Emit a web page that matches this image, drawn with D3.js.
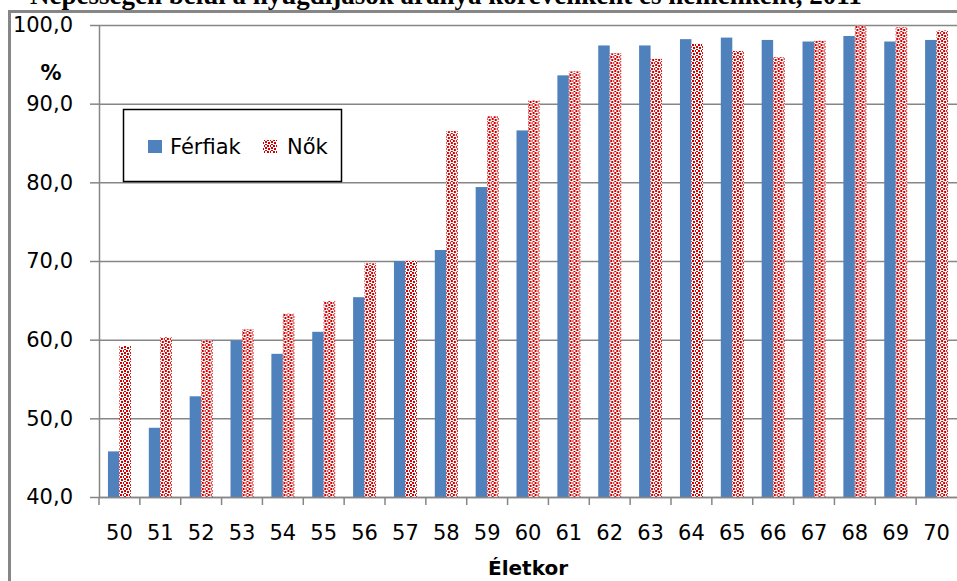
<!DOCTYPE html>
<html>
<head>
<meta charset="utf-8">
<script src="https://cdn.jsdelivr.net/npm/d3@7"></script>
<style>
  body { margin: 0; background: #fff; overflow: hidden; }
  text { font-family: "DejaVu Sans", sans-serif; fill: #000; }
</style>
</head>
<body>
<script>
// age groups (x categories)
const ages = ["50","51","52","53","54","55","56","57","58","59","60",
              "61","62","63","64","65","66","67","68","69","70"];
// share in %
const ferfiak = [45.8, 48.8, 52.8, 59.9, 58.2, 61.0, 65.4, 70.0, 71.4, 79.4, 86.6,
                 93.6, 97.4, 97.4, 98.2, 98.4, 98.1, 97.9, 98.6, 97.9, 98.1];
const nok = [59.2, 60.3, 59.9, 61.3, 63.3, 64.9, 69.7, 70.0, 86.5, 88.4, 90.4,
             94.1, 96.4, 95.7, 97.6, 96.7, 95.9, 98.0, 99.9, 99.7, 99.3];
const series = ["Férfiak", "Nők"];
const yTicks = [40, 50, 60, 70, 80, 90, 100];

const margin = { top: 25, right: 0, bottom: 84, left: 99 },
      width = 957 - margin.left - margin.right,
      height = 581 - margin.top - margin.bottom;

const svgRoot = d3.select("body").append("svg")
    .attr("width", 957)
    .attr("height", 581);

// red "weave" pattern for the women bars
const defs = svgRoot.append("defs");
const pat = defs.append("pattern")
    .attr("id", "weave")
    .attr("patternUnits", "userSpaceOnUse")
    .attr("width", 6).attr("height", 6);
pat.append("rect").attr("width", 6).attr("height", 6).attr("fill", "#fff");
[[1,0],[2,0],[0,1],[3,1],[0,2],[3,2],[1,3],[2,3],
 [4,1],[1,4],[4,4],[5,4],[4,5],[5,5],[4,2],[2,4]].forEach(function (p) {
    pat.append("rect")
        .attr("x", p[0]).attr("y", p[1])
        .attr("width", 1).attr("height", 1)
        .attr("fill", "#d00000")
        .attr("shape-rendering", "crispEdges");
});

// cut off title above the frame
svgRoot.append("text")
    .attr("x", 30).attr("y", 4)
    .style("font-family", "'Liberation Serif', serif")
    .style("font-weight", "bold")
    .style("font-size", "27px")
    .text("Népességen belül a nyugdíjasok aránya korévenként és nemenként, 2011");

// chart frame
svgRoot.append("rect")
    .attr("x", 9.5).attr("y", 11.5)
    .attr("width", 1000).attr("height", 1000)
    .attr("fill", "#fff")
    .attr("stroke", "#868686")
    .attr("stroke-width", 3);

const svg = svgRoot.append("g")
    .attr("transform", "translate(" + margin.left + "," + margin.top + ")");

const x = d3.scaleBand().domain(ages).range([0, width]).padding(0);
const x1 = d3.scaleBand().domain(series).range([0, x.bandwidth()])
    .paddingInner(0).paddingOuter(0.78);
const y = d3.scaleLinear().domain([40, 100]).range([height, 0]);
const color = { "Férfiak": "#4f81bd", "Nők": "url(#weave)" };

// gridlines
svg.append("g")
    .call(d3.axisLeft(y).tickValues(yTicks).tickSize(-width).tickFormat(""))
    .call(function (g) { g.select(".domain").remove(); })
    .selectAll("line").attr("stroke", "#868686").attr("stroke-width", 1.5);

// y axis
const yAxis = svg.append("g")
    .call(d3.axisLeft(y).tickValues(yTicks).tickSize(9).tickSizeOuter(0).tickPadding(17)
        .tickFormat(function (d) { return d3.format(".1f")(d).replace(".", ","); }));
yAxis.select(".domain").attr("stroke", "#868686").attr("stroke-width", 1.5);
yAxis.selectAll("line").attr("stroke", "#868686").attr("stroke-width", 1.5);
yAxis.selectAll("text").style("font-size", "21px").style("font-family", "DejaVu Sans");

// bars
const data = ages.map(function (a, i) { return { age: a, vals: [ferfiak[i], nok[i]] }; });
const groups = svg.selectAll(".grp")
    .data(data)
    .enter().append("g")
    .attr("class", "grp")
    .attr("transform", function (d) { return "translate(" + x(d.age) + ",0)"; });
groups.selectAll("rect")
    .data(function (d) { return series.map(function (s, j) { return { s: s, v: d.vals[j] }; }); })
    .enter().append("rect")
    .attr("x", function (d) { return x1(d.s); })
    .attr("width", x1.bandwidth())
    .attr("y", function (d) { return y(d.v); })
    .attr("height", function (d) { return height - y(d.v); })
    .attr("fill", function (d) { return color[d.s]; });

// x axis
const xAxis = svg.append("g")
    .attr("transform", "translate(0," + height + ")")
    .call(d3.axisBottom(x).tickSize(0).tickSizeOuter(0).tickPadding(28));
xAxis.select(".domain").attr("stroke", "#868686").attr("stroke-width", 1.5);
xAxis.selectAll("text").style("font-size", "21px").style("font-family", "DejaVu Sans");
svg.append("g").selectAll("line")
    .data(ages)
    .enter().append("line")
    .attr("x1", function (d) { return x(d); })
    .attr("x2", function (d) { return x(d); })
    .attr("y1", height).attr("y2", height + 8)
    .attr("stroke", "#868686").attr("stroke-width", 1.5);

// axis titles
svgRoot.append("text")
    .attr("x", 51).attr("y", 80)
    .attr("text-anchor", "middle")
    .style("font-weight", "bold").style("font-size", "21px")
    .text("%");
svgRoot.append("text")
    .attr("x", 528).attr("y", 575)
    .attr("text-anchor", "middle")
    .style("font-weight", "bold").style("font-size", "20px")
    .text("Életkor");

// legend
const leg = svgRoot.append("g");
leg.append("rect")
    .attr("x", 123.5).attr("y", 109.5)
    .attr("width", 218).attr("height", 72)
    .attr("fill", "#fff").attr("stroke", "#000").attr("stroke-width", 1.5);
const legX = [148, 263], legTx = [170, 287];
series.forEach(function (s, i) {
    leg.append("rect")
        .attr("x", legX[i]).attr("y", 140)
        .attr("width", 14).attr("height", 13)
        .attr("fill", color[s]);
    leg.append("text")
        .attr("x", legTx[i]).attr("y", 154)
        .style("font-size", "21px")
        .text(s);
});
</script>
</body>
</html>
